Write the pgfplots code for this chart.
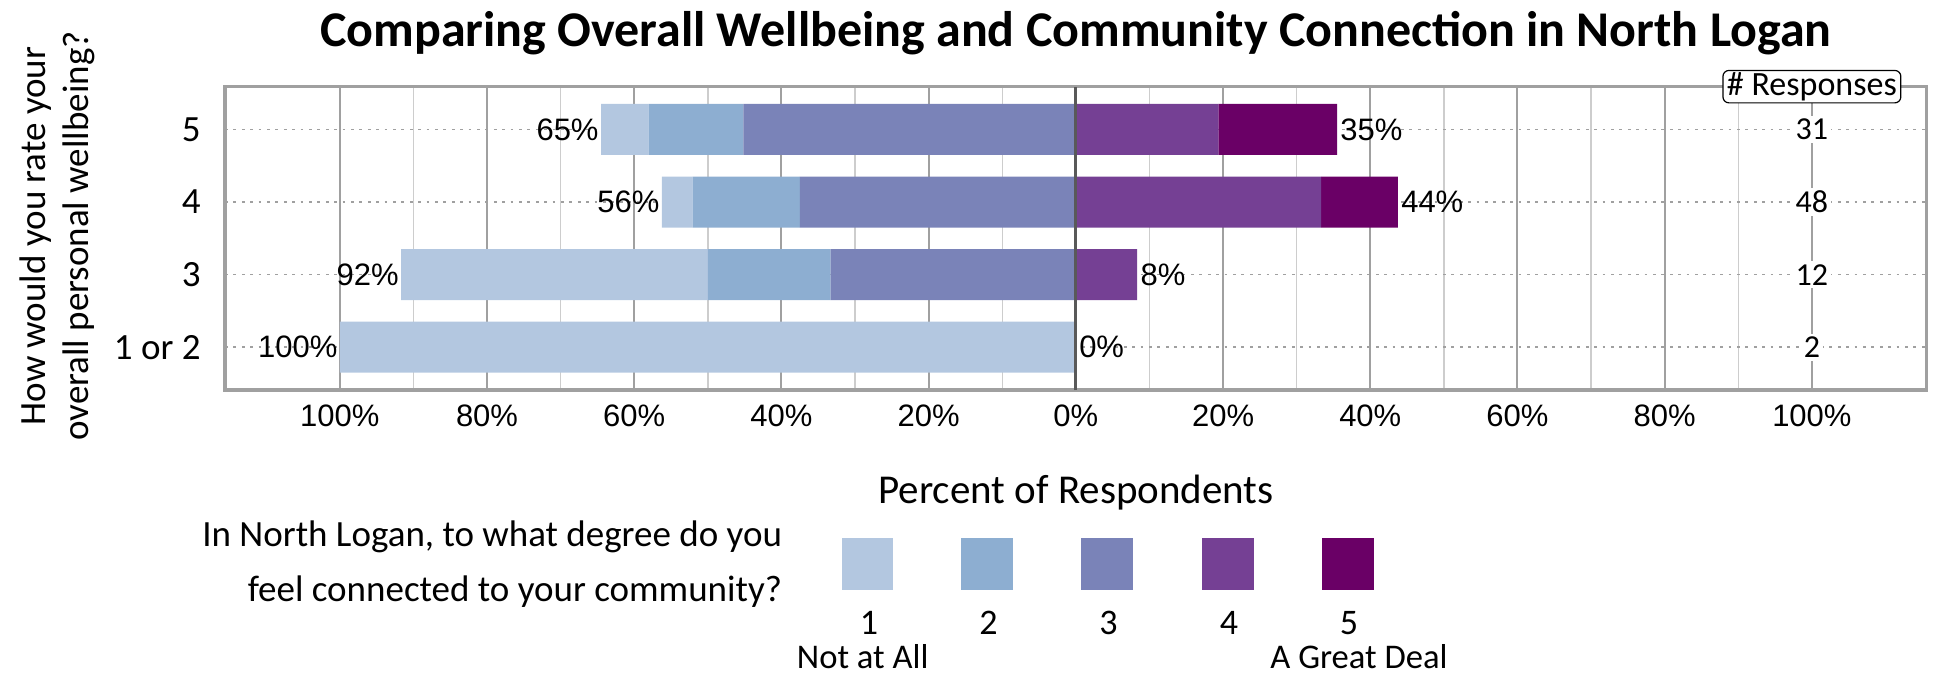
\documentclass[border=0pt]{standalone}
\usepackage{fontspec}
\setmainfont{Carlito}
\newfontfamily\arial{Liberation Sans}
\usepackage{pgfplots}
\pgfplotsset{compat=1.18}
\definecolor{cA}{RGB}{179,199,224}
\definecolor{cB}{RGB}{141,174,209}
\definecolor{cC}{RGB}{122,131,184}
\definecolor{cD}{RGB}{117,64,148}
\definecolor{cE}{RGB}{106,0,102}
\definecolor{gridmaj}{RGB}{160,160,160}
\definecolor{gridmin}{RGB}{205,205,205}
\definecolor{zeroline}{RGB}{89,89,89}
\pgfplotsset{base/.style={scale only axis, width=850.85pt, height=151.67pt,
  at={(112.5pt,-195pt)}, anchor=south west,
  xmin=-115.6, xmax=115.6, ymin=-0.59, ymax=3.59}}
\begin{document}
\begin{tikzpicture}
\path[use as bounding box] (0,0) rectangle (975pt,-337.5pt);
% frame, grid, ticks
\begin{axis}[base,
  axis line style={draw=gridmaj, line width=1.6pt},
  xtick={-100,-80,...,100},
  xticklabels={100\%,80\%,60\%,40\%,20\%,0\%,20\%,40\%,60\%,80\%,100\%},
  minor xtick={-90,-70,...,90},
  xmajorgrids, xminorgrids,
  major x grid style={draw=gridmaj, line width=1pt},
  minor x grid style={draw=gridmin, line width=0.7pt},
  ytick={0,1,2,3}, yticklabels={1 or 2,3,4,5},
  ymajorgrids, major y grid style={draw=gridmaj, line width=0.7pt, dash pattern=on 1.4pt off 2.8pt},
  major tick length=0pt, minor tick length=0pt,
  xticklabel style={font=\arial\fontsize{15.5}{18}\selectfont, anchor=north, inner sep=0pt},
  xticklabel shift=7pt,
  yticklabel style={font=\fontsize{18.5}{22}\selectfont, anchor=east, inner sep=0pt},
  yticklabel shift=12pt,
]
\addplot[draw=none] coordinates {(0,0)};
\end{axis}
% negative stack
\begin{axis}[base, hide axis, xbar stacked, bar width=25.5pt]
\addplot[fill=cC, draw=none] coordinates {(-45.16,3) (-37.50,2) (-33.33,1) (0,0)};
\addplot[fill=cB, draw=none] coordinates {(-12.90,3) (-14.58,2) (-16.67,1) (0,0)};
\addplot[fill=cA, draw=none] coordinates {(-6.45,3) (-4.17,2) (-41.67,1) (-100,0)};
\end{axis}
% positive stack
\begin{axis}[base, hide axis, xbar stacked, bar width=25.5pt]
\addplot[fill=cD, draw=none] coordinates {(19.35,3) (33.33,2) (8.33,1) (0,0)};
\addplot[fill=cE, draw=none] coordinates {(16.13,3) (10.42,2) (0,1) (0,0)};
\end{axis}
% overlays
\begin{axis}[base, hide axis, clip=false]
\addplot[draw=zeroline, line width=1.5pt] coordinates {(0,-0.59) (0,3.59)};
\addplot[draw=none, point meta=explicit symbolic,
  nodes near coords={\pgfplotspointmeta\%},
  every node near coord/.append style={anchor=east, font=\arial\fontsize{15.5}{18}\selectfont, inner sep=1pt}]
  table[meta=l] {
x y l
-64.52 3 65
-56.25 2 56
-91.67 1 92
-100 0 100
};
\addplot[draw=none, point meta=explicit symbolic,
  nodes near coords={\pgfplotspointmeta\%},
  every node near coord/.append style={anchor=west, font=\arial\fontsize{15.5}{18}\selectfont, inner sep=1.5pt}]
  table[meta=l] {
x y l
35.48 3 35
43.75 2 44
8.33 1 8
0 0 0
};
\addplot[draw=none, point meta=explicit symbolic,
  nodes near coords={\pgfplotspointmeta},
  every node near coord/.append style={anchor=center, fill=white, inner sep=1.5pt, font=\fontsize{16}{19}\selectfont}]
  table[meta=n] {
x y n
100 3 31
100 2 48
100 1 12
100 0 2
};
\node[draw=black, fill=white, rounded corners=3pt, line width=0.6pt, inner xsep=2pt, inner ysep=1pt,
  font=\fontsize{17}{20}\selectfont] at (axis cs:100,3.59) {\# Responses};
\end{axis}
% title
\node[anchor=base, font=\bfseries\fontsize{25}{30}\selectfont] at (537.9pt,-23.35pt)
  {Comparing Overall Wellbeing and Community Connection in North Logan};
% y label
\node[rotate=90, anchor=base, font=\fontsize{18.5}{22}\selectfont] at (22.5pt,-118pt) {How would you rate your};
\node[rotate=90, anchor=base, font=\fontsize{18.5}{22}\selectfont] at (44.15pt,-118pt) {overall personal wellbeing?};
% x label
\node[anchor=base, font=\fontsize{20.5}{24}\selectfont] at (538pt,-251.65pt) {Percent of Respondents};
% legend
\node[anchor=base east, font=\fontsize{18.5}{22}\selectfont] at (394.5pt,-273.35pt) {In North Logan, to what degree do you};
\node[anchor=base east, font=\fontsize{18.5}{22}\selectfont] at (394.5pt,-300.85pt) {feel connected to your community?};
\fill[cA] (420.75pt,-269pt) rectangle (446.45pt,-295pt);
\fill[cB] (480.5pt,-269pt) rectangle (506.25pt,-295pt);
\fill[cC] (540.4pt,-269pt) rectangle (566.5pt,-295pt);
\fill[cD] (601pt,-269pt) rectangle (627pt,-295pt);
\fill[cE] (661pt,-269pt) rectangle (687pt,-295pt);
\foreach \xx/\t in {434.5/1, 494.2/2, 554.2/3, 614.5/4, 674.5/5}
  \node[anchor=base, inner sep=0pt, font=\fontsize{18}{21}\selectfont] at (\xx pt,-317pt) {\t};
\node[anchor=base, inner sep=0pt, font=\fontsize{17.3}{20}\selectfont] at (431.35pt,-334.4pt) {Not at All};
\node[anchor=base, inner sep=0pt, font=\fontsize{17.3}{20}\selectfont] at (679.5pt,-334.4pt) {A Great Deal};
\end{tikzpicture}
\end{document}
